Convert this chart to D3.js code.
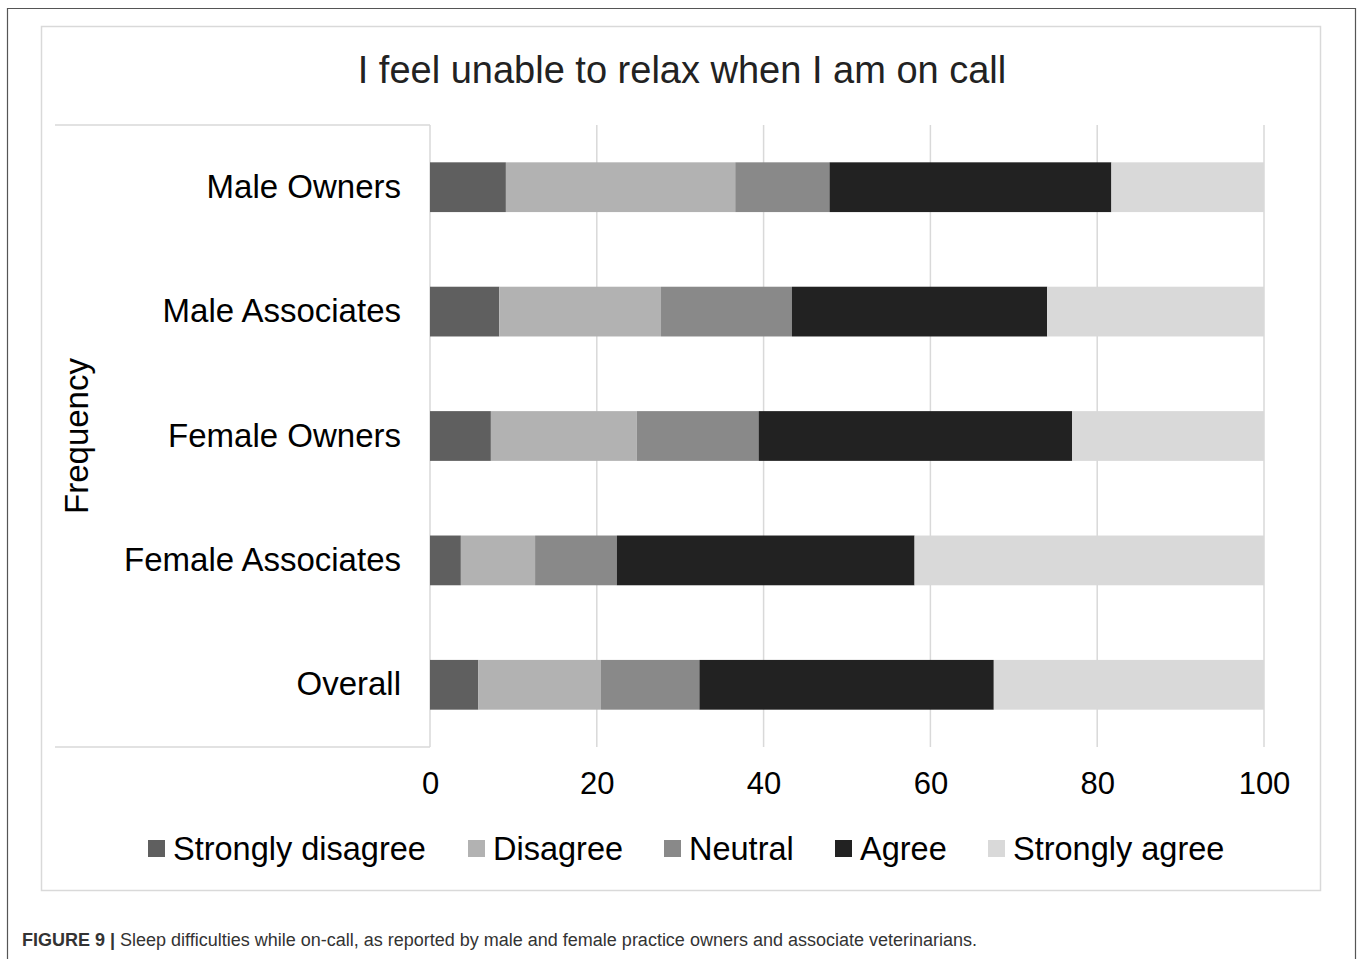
<!DOCTYPE html>
<html>
<head>
<meta charset="utf-8">
<script src="https://cdn.jsdelivr.net/npm/d3@7"></script>
<style>
  body { margin: 0; background: #fff; }
  svg { display: block; font-family: "Liberation Sans", Arial, sans-serif; }
</style>
</head>
<body>
<div id="chart"></div>
<script>
// groups shown top to bottom
var groups = ["Male Owners", "Male Associates", "Female Owners", "Female Associates", "Overall"];
var responses = ["Strongly disagree", "Disagree", "Neutral", "Agree", "Strongly agree"];

// percentages per response, same order as groups
var stronglyDisagree = [9.1, 8.3, 7.3, 3.7, 5.8];
var disagree         = [27.5, 19.4, 17.5, 8.9, 14.7];
var neutral          = [11.3, 15.7, 14.6, 9.8, 11.8];
var agree            = [33.8, 30.6, 37.6, 35.7, 35.3];
var stronglyAgree    = [18.3, 26.0, 23.0, 41.9, 32.4];

var xTicks = [0, 20, 40, 60, 80, 100];
var colors = ["#5f5f5f", "#b2b2b2", "#898989", "#222222", "#d9d9d9"];

var W = 1358, H = 959;
var svg = d3.select("#chart").append("svg")
    .attr("width", W)
    .attr("height", H);

// outer figure frame (left, top, right only)
svg.append("path")
    .attr("d", "M7.5," + H + "V8.5H1355.5V" + H)
    .attr("fill", "none")
    .attr("stroke", "#555")
    .attr("stroke-width", 1.2);

// chart area box
svg.append("rect")
    .attr("x", 41.5).attr("y", 26.5)
    .attr("width", 1279).attr("height", 864)
    .attr("fill", "#fff")
    .attr("stroke", "#d9d9d9")
    .attr("stroke-width", 1.5);

var rows = groups.map(function(g, i) {
    return {
        group: g,
        "Strongly disagree": stronglyDisagree[i],
        "Disagree": disagree[i],
        "Neutral": neutral[i],
        "Agree": agree[i],
        "Strongly agree": stronglyAgree[i]
    };
});

var x = d3.scaleLinear().domain([0, 100]).range([430, 1264]);
var y = d3.scaleBand().domain(groups).range([125, 747])
    .paddingInner(0.6).paddingOuter(0.3);
var color = d3.scaleOrdinal().domain(responses).range(colors);

// gridlines
svg.append("g").selectAll("line")
    .data(xTicks)
    .enter().append("line")
    .attr("x1", function(d) { return x(d); })
    .attr("x2", function(d) { return x(d); })
    .attr("y1", 125).attr("y2", 747)
    .attr("stroke", "#d9d9d9")
    .attr("stroke-width", 1.5);

// category axis lines
svg.append("line").attr("x1", 55).attr("x2", 430).attr("y1", 125).attr("y2", 125)
    .attr("stroke", "#d9d9d9").attr("stroke-width", 1.5);
svg.append("line").attr("x1", 55).attr("x2", 430).attr("y1", 747).attr("y2", 747)
    .attr("stroke", "#d9d9d9").attr("stroke-width", 1.5);

// stacked bars
var series = d3.stack().keys(responses)(rows);
svg.append("g").selectAll("g")
    .data(series)
    .enter().append("g")
    .attr("fill", function(d) { return color(d.key); })
    .selectAll("rect")
    .data(function(d) { return d; })
    .enter().append("rect")
    .attr("x", function(d) { return x(d[0]); })
    .attr("width", function(d) { return x(d[1]) - x(d[0]); })
    .attr("y", function(d) { return y(d.data.group); })
    .attr("height", y.bandwidth());

// x axis labels
var xAxis = d3.axisBottom(x).tickValues(xTicks).tickSize(0).tickPadding(0);
var gx = svg.append("g").attr("transform", "translate(0,772)").call(xAxis);
gx.select(".domain").remove();
gx.selectAll("text")
    .attr("dy", "0.71em")
    .style("font-size", "31px")
    .style("font-family", "Liberation Sans, Arial, sans-serif")
    .attr("fill", "#000");

// category labels
var yAxis = d3.axisLeft(y).tickSize(0).tickPadding(29);
var gy = svg.append("g").attr("transform", "translate(430,0)").call(yAxis);
gy.select(".domain").remove();
gy.selectAll("text")
    .style("font-size", "33px")
    .style("font-family", "Liberation Sans, Arial, sans-serif")
    .attr("fill", "#000");

// axis title
svg.append("text")
    .attr("transform", "translate(88,436) rotate(-90)")
    .attr("text-anchor", "middle")
    .style("font-size", "33px")
    .attr("fill", "#000")
    .text("Frequency");

// chart title
svg.append("text")
    .attr("x", 682).attr("y", 83)
    .attr("text-anchor", "middle")
    .style("font-size", "38px")
    .attr("fill", "#222")
    .text("I feel unable to relax when I am on call");

// legend
var legendX = [148, 468, 664, 835, 988];
var legend = svg.append("g").selectAll("g")
    .data(responses)
    .enter().append("g")
    .attr("transform", function(d, i) { return "translate(" + legendX[i] + ",0)"; });
legend.append("rect")
    .attr("x", 0).attr("y", 840)
    .attr("width", 17).attr("height", 17)
    .attr("fill", function(d) { return color(d); });
legend.append("text")
    .attr("x", 25).attr("y", 860)
    .style("font-size", "32.5px")
    .attr("fill", "#000")
    .text(function(d) { return d; });

// caption
var cap = svg.append("text")
    .attr("x", 22).attr("y", 946)
    .style("font-size", "18px")
    .attr("fill", "#333")
    .attr("textLength", 955)
    .attr("lengthAdjust", "spacingAndGlyphs");
cap.append("tspan").style("font-weight", "bold").attr("fill", "#333").text("FIGURE 9 | ");
cap.append("tspan").text("Sleep difficulties while on-call, as reported by male and female practice owners and associate veterinarians.");
</script>
</body>
</html>
